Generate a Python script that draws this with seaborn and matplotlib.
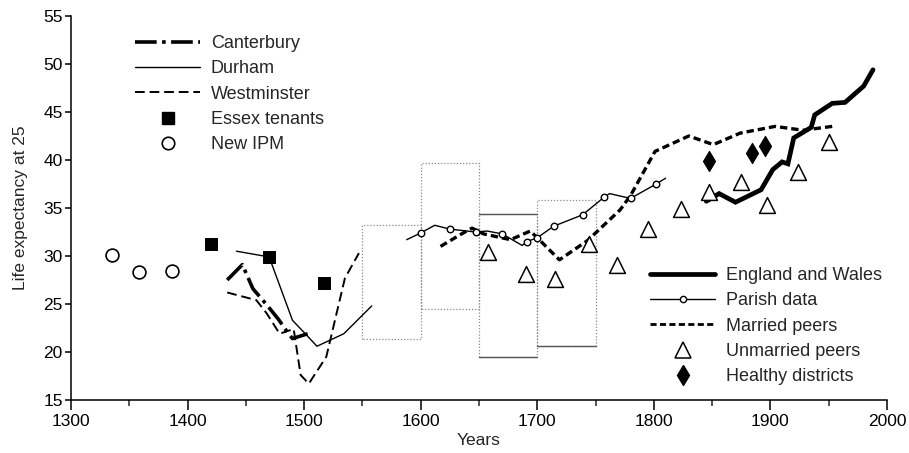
import matplotlib
matplotlib.use("Agg")
import matplotlib.pyplot as plt
from matplotlib.lines import Line2D
from matplotlib.ticker import MultipleLocator
import seaborn as sns
import pandas as pd

# ---------------- data ----------------
canterbury_years = [1434, 1447, 1456, 1468, 1478, 1486, 1490, 1503]
canterbury_vals = [27.5, 29.1, 26.6, 24.9, 23.4, 22.0, 21.4, 21.9]

durham_years = [1442, 1470, 1490, 1501, 1511, 1534, 1558]
durham_vals = [30.5, 29.9, 23.3, 21.9, 20.6, 21.9, 24.8]

westminster_years = [1434, 1459, 1468, 1479, 1491, 1497, 1504, 1519, 1535, 1547]
westminster_vals = [26.2, 25.4, 24.0, 21.9, 22.4, 17.6, 16.7, 19.5, 27.7, 30.3]

essex_years = [1420, 1470, 1517]
essex_vals = [31.3, 29.9, 27.2]

ipm_years = [1335, 1358, 1387]
ipm_vals = [30.1, 28.3, 28.4]

ew_years = [1845, 1856, 1870, 1892, 1902, 1910, 1915, 1920, 1935, 1938, 1953, 1964, 1980, 1988]
ew_vals = [35.7, 36.5, 35.6, 36.9, 39.0, 39.8, 39.6, 42.3, 43.4, 44.7, 45.9, 46.0, 47.7, 49.4]

parish_years = [1588, 1600, 1612, 1625, 1647, 1657, 1670, 1687, 1691, 1700, 1714,
                1739, 1757, 1762, 1780, 1802, 1810]
parish_vals = [31.7, 32.4, 33.2, 32.8, 32.5, 32.6, 32.3, 31.1, 31.5, 31.9, 33.1,
               34.3, 36.1, 36.5, 36.0, 37.5, 38.1]
parish_marked = [False, True, False, True, True, False, True, False, True, True, True,
                 True, True, False, True, True, False]

married_years = [1617, 1635, 1644, 1654, 1677, 1694, 1700, 1719, 1743, 1771, 1780,
                 1801, 1830, 1851, 1874, 1904, 1928, 1953]
married_vals = [31.0, 32.3, 32.9, 32.3, 31.7, 32.6, 31.9, 29.6, 31.6, 34.8, 36.3,
                40.9, 42.5, 41.6, 42.8, 43.5, 43.1, 43.5]

unmarried_years = [1658, 1690, 1715, 1744, 1768, 1795, 1823, 1847, 1875, 1897, 1924, 1950]
unmarried_vals = [30.4, 28.1, 27.6, 31.2, 29.1, 32.8, 34.9, 36.7, 37.7, 35.3, 38.7, 41.9]

healthy_years = [1847, 1884, 1895]
healthy_vals = [39.9, 40.7, 41.5]

# range boxes (period start, period end, low, high)
box_start = [1550, 1600, 1650, 1700]
box_end = [1600, 1650, 1700, 1750]
box_low = [21.4, 24.5, 19.5, 20.6]
box_high = [33.2, 39.7, 34.4, 35.8]

# ---------------- style ----------------
sns.set_style("ticks")
plt.rcParams["font.family"] = ["Liberation Sans", "DejaVu Sans"]

fig = plt.figure(figsize=(9.09, 4.53), dpi=100)
ax = fig.add_axes([71 / 909, 1 - 400 / 453, (887 - 71) / 909, (400 - 16) / 453])

# boxes
box_color = "#8a8a8a"
for s, e, lo, hi in zip(box_start, box_end, box_low, box_high):
    ax.plot([s, s, e, e, s], [lo, hi, hi, lo, lo], color=box_color,
            lw=0.9, linestyle=(0, (1, 1.5)), zorder=1)
# solid edges seen on later boxes
ax.plot([box_start[2], box_end[2]], [box_high[2], box_high[2]], color="#555555", lw=1.0, zorder=1)
ax.plot([box_start[2], box_end[2]], [box_low[2], box_low[2]], color="#555555", lw=1.0, zorder=1)
ax.plot([box_start[3], box_end[3]], [box_low[3], box_low[3]], color="#555555", lw=1.0, zorder=1)

k = "black"
canter_ls = (0, (6, 1.5, 1, 1.5))
westm_ls = (0, (5, 2.5))
married_ls = (0, (2.2, 1.2))

sns.lineplot(x=canterbury_years, y=canterbury_vals, ax=ax, color=k, lw=2.6,
             linestyle=canter_ls, sort=False, estimator=None)
sns.lineplot(x=durham_years, y=durham_vals, ax=ax, color=k, lw=1.0, sort=False, estimator=None)
sns.lineplot(x=westminster_years, y=westminster_vals, ax=ax, color=k, lw=1.4,
             linestyle=westm_ls, sort=False, estimator=None)
sns.lineplot(x=married_years, y=married_vals, ax=ax, color=k, lw=2.4,
             linestyle=married_ls, sort=False, estimator=None)
sns.lineplot(x=parish_years, y=parish_vals, ax=ax, color=k, lw=1.0, sort=False, estimator=None)
sns.lineplot(x=ew_years, y=ew_vals, ax=ax, color=k, lw=3.4, sort=False, estimator=None,
             solid_joinstyle="miter")

pdf = pd.DataFrame({"x": parish_years, "y": parish_vals, "m": parish_marked})
pdf = pdf[pdf["m"]]
sns.scatterplot(x=pdf["x"], y=pdf["y"], ax=ax, marker="o", s=22, facecolor="white",
                edgecolor=k, linewidth=1.0, zorder=5)
sns.scatterplot(x=essex_years, y=essex_vals, ax=ax, marker="s", s=75, color=k,
                edgecolor=k, zorder=5)
sns.scatterplot(x=ipm_years, y=ipm_vals, ax=ax, marker="o", s=85, facecolor="white",
                edgecolor=k, linewidth=1.2, zorder=5)
sns.scatterplot(x=unmarried_years, y=unmarried_vals, ax=ax, marker="^", s=130,
                facecolor="white", edgecolor=k, linewidth=1.1, zorder=5)
sns.scatterplot(x=healthy_years, y=healthy_vals, ax=ax, marker="d", s=105, color=k,
                edgecolor=k, zorder=5)

# axes
ax.set_xlim(1300, 2000)
ax.set_ylim(15, 55)
ax.xaxis.set_major_locator(MultipleLocator(100))
ax.xaxis.set_minor_locator(MultipleLocator(50))
ax.yaxis.set_major_locator(MultipleLocator(5))
sns.despine(ax=ax)
for sp in ("left", "bottom"):
    ax.spines[sp].set_linewidth(1.1)
    ax.spines[sp].set_color(k)
ax.tick_params(axis="x", which="major", length=7, width=1.1, pad=3, labelsize=12.5, colors=k)
ax.tick_params(axis="x", which="minor", length=4.5, width=1.1)
ax.tick_params(axis="y", which="major", length=4, width=1.1, pad=2, labelsize=12.5, colors=k)
ax.set_xlabel("Years", fontsize=12.5, labelpad=3)
ax.set_ylabel("Life expectancy at 25", fontsize=12.5, labelpad=11)

# legends
h1 = [
    Line2D([], [], color=k, lw=2.6, linestyle=canter_ls),
    Line2D([], [], color=k, lw=1.0),
    Line2D([], [], color=k, lw=1.4, linestyle=westm_ls),
    Line2D([], [], color=k, lw=0, marker="s", markersize=8),
    Line2D([], [], color=k, lw=0, marker="o", markersize=9, markerfacecolor="white", markeredgewidth=1.2),
]
l1 = ["Canterbury", "Durham", "Westminster", "Essex tenants", "New IPM"]
leg1 = ax.legend(h1, l1, loc="upper left", bbox_to_anchor=(135 / 909, 1 - 35 / 453),
                 bbox_transform=fig.transFigure, frameon=False, fontsize=13,
                 handlelength=3.6, handletextpad=0.6, labelspacing=0.46, borderpad=0,
                 borderaxespad=0)
ax.add_artist(leg1)

h2 = [
    Line2D([], [], color=k, lw=3.4),
    Line2D([], [], color=k, lw=1.0, marker="o", markersize=4.5, markerfacecolor="white",
           markevery=[1, 2]),
    Line2D([], [], color=k, lw=2.0, linestyle=married_ls),
    Line2D([], [], color=k, lw=0, marker="^", markersize=11, markerfacecolor="white", markeredgewidth=1.1),
    Line2D([], [], color=k, lw=0, marker="d", markersize=10),
]
l2 = ["England and Wales", "Parish data", "Married peers", "Unmarried peers", "Healthy districts"]
ax.legend(h2, l2, loc="upper left", bbox_to_anchor=(650 / 909, 1 - 267 / 453),
          bbox_transform=fig.transFigure, frameon=False, fontsize=13,
          handlelength=3.6, handletextpad=0.6, labelspacing=0.46, borderpad=0,
          borderaxespad=0)

fig.savefig("out.png", dpi=100)
